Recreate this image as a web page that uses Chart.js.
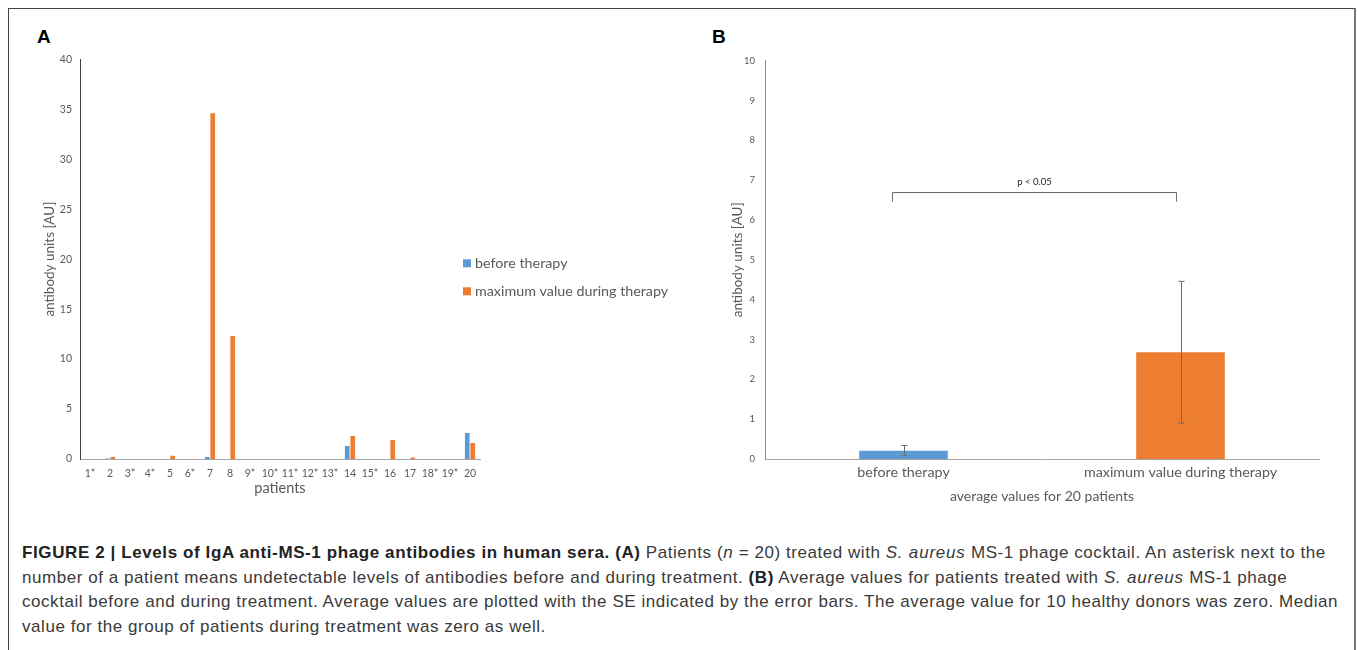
<!DOCTYPE html>
<html>
<head>
<meta charset="utf-8">
<script src="https://cdn.jsdelivr.net/npm/chart.js@4"></script>
<style>
  html, body { margin: 0; padding: 0; background: #fff; width: 1358px; height: 650px; overflow: hidden; }
  .frame { position: absolute; left: 8px; top: 8px; width: 1345px; height: 700px;
           border-top: 1px solid #444; border-left: 1px solid #444; border-right: 2px solid #777; }
  .panel-label { position: absolute; top: 26px; font: bold 19px "Liberation Sans", Arial, sans-serif; color: #000; }
  #chartA { position: absolute; left: 38px; top: 45px; }
  #chartB { position: absolute; left: 726px; top: 45px; }
  .caption { position: absolute; left: 22px; top: 541px; font-family: "Liberation Sans", Arial, sans-serif;
             font-size: 17px; letter-spacing: 0.55px; color: #3a3a3a; line-height: 24.5px; white-space: nowrap; }
  .caption b { color: #222; letter-spacing: 0.6px; }
  .caption i { letter-spacing: 0.8px; }
</style>
</head>
<body>
<div class="frame"></div>
<div class="panel-label" style="left:37px">A</div>
<div class="panel-label" style="left:712px">B</div>
<canvas id="chartA" width="662" height="456"></canvas>
<canvas id="chartB" width="620" height="464"></canvas>
<div class="caption">
  <div><b>FIGURE 2 | Levels of IgA anti-MS-1 phage antibodies in human sera. (A)</b> Patients (<i>n</i> = 20) treated with <i>S. aureus</i> MS-1 phage cocktail. An asterisk next to the</div>
  <div>number of a patient means undetectable levels of antibodies before and during treatment. <b>(B)</b> Average values for patients treated with <i>S. aureus</i> MS-1 phage</div>
  <div>cocktail before and during treatment. Average values are plotted with the SE indicated by the error bars. The average value for 10 healthy donors was zero. Median</div>
  <div>value for the group of patients during treatment was zero as well.</div>
</div>
<script>
// Panel A data
const patients = ['1*', '2', '3*', '4*', '5', '6*', '7', '8', '9*', '10*', '11*', '12*', '13*', '14', '15*', '16', '17', '18*', '19*', '20'];
const beforeTherapy = [0, 0.05, 0, 0, 0, 0, 0.2, 0, 0, 0, 0, 0, 0, 1.3, 0, 0, 0, 0, 0, 2.6];
const maxDuringTherapy = [0, 0.2, 0, 0, 0.33, 0, 34.6, 12.3, 0, 0, 0, 0, 0, 2.3, 0, 1.9, 0.15, 0, 0, 1.6];
const yTicksA = [0, 5, 10, 15, 20, 25, 30, 35, 40];

// Panel B data
const groups = ['before therapy', 'maximum value during therapy'];
const averages = [0.21, 2.68];
const standardErrors = [0.13, 1.78];
const yTicksB = [0, 1, 2, 3, 4, 5, 6, 7, 8, 9, 10];
const significance = { from: 0, to: 1, level: 6.7, label: 'p < 0.05' };

const BLUE = '#5B9BD5';
const ORANGE = '#ED7D31';
const TEXT = '#595959';
const FONT = 'Lato, "Open Sans", sans-serif';

Chart.defaults.font.family = FONT;
Chart.defaults.color = TEXT;
Chart.defaults.animation = false;

// legend drawn inside panel A, like the Excel original
const insideLegend = {
  id: 'insideLegend',
  afterDraw(chart) {
    const { ctx, chartArea } = chart;
    ctx.save();
    ctx.font = '14.3px ' + FONT;
    ctx.textBaseline = 'middle';
    chart.data.datasets.forEach((ds, i) => {
      const x = chartArea.right - 17;
      const y = chartArea.top + 204 + i * 28;
      ctx.fillStyle = ds.backgroundColor;
      ctx.fillRect(x, y - 4, 8, 8);
      ctx.fillStyle = TEXT;
      ctx.fillText(ds.label, x + 12, y);
    });
    ctx.restore();
  }
};

// error bars + significance bracket for panel B
const errorBars = {
  id: 'errorBars',
  afterDatasetsDraw(chart) {
    const { ctx } = chart;
    const xs = chart.scales.x, ys = chart.scales.y;
    ctx.save();
    ctx.strokeStyle = '#6b6b6b';
    ctx.lineWidth = 1;
    averages.forEach((v, i) => {
      const x = Math.round(xs.getPixelForValue(i)) + 0.5;
      const top = ys.getPixelForValue(v + standardErrors[i]);
      const bot = ys.getPixelForValue(v - standardErrors[i]);
      ctx.beginPath();
      ctx.moveTo(x, top); ctx.lineTo(x, bot);
      ctx.moveTo(x - 3, top); ctx.lineTo(x + 3, top);
      ctx.moveTo(x - 3, bot); ctx.lineTo(x + 3, bot);
      ctx.stroke();
    });
    // bracket
    const x1 = xs.getPixelForValue(significance.from) - 11;
    const x2 = xs.getPixelForValue(significance.to) - 4;
    const yb = Math.round(ys.getPixelForValue(significance.level)) + 0.5;
    ctx.beginPath();
    ctx.moveTo(x1, yb + 9); ctx.lineTo(x1, yb); ctx.lineTo(x2, yb); ctx.lineTo(x2, yb + 9);
    ctx.stroke();
    ctx.fillStyle = '#222';
    ctx.font = '9.5px ' + FONT;
    ctx.textAlign = 'center';
    ctx.textBaseline = 'middle';
    ctx.fillText(significance.label, (x1 + x2) / 2, yb - 11);
    ctx.restore();
  }
};

new Chart(document.getElementById('chartA'), {
  type: 'bar',
  data: {
    labels: patients,
    datasets: [
      { label: 'before therapy', data: beforeTherapy, backgroundColor: BLUE },
      { label: 'maximum value during therapy', data: maxDuringTherapy, backgroundColor: ORANGE }
    ]
  },
  options: {
    responsive: false,
    categoryPercentage: 0.55,
    barPercentage: 0.85,
    layout: { padding: { top: 13, right: 220, left: 0, bottom: 0 } },
    plugins: { legend: { display: false }, tooltip: { enabled: false } },
    scales: {
      x: {
        grid: { display: false, drawTicks: false },
        border: { color: '#a6a6a6' },
        ticks: { font: { size: 10.5 }, padding: 8, maxRotation: 0, autoSkip: false },
        title: { display: true, text: 'patients', font: { size: 14.5 } },
        afterFit(s) { s.height = 42; }
      },
      y: {
        min: 0, max: 40,
        grid: { display: false, drawTicks: false },
        border: { color: '#404040' },
        ticks: { font: { size: 10.5 }, padding: 8 },
        afterBuildTicks(s) { s.ticks = yTicksA.map(v => ({ value: v })); },
        title: { display: true, text: 'antibody units [AU]', font: { size: 13.5 } },
        afterFit(s) { s.width = 42; }
      }
    }
  },
  plugins: [insideLegend]
});

new Chart(document.getElementById('chartB'), {
  type: 'bar',
  data: {
    labels: groups,
    datasets: [
      { data: averages, backgroundColor: [BLUE, ORANGE] }
    ]
  },
  options: {
    responsive: false,
    categoryPercentage: 1,
    barPercentage: 0.32,
    layout: { padding: { top: 13, right: 27, left: 0, bottom: 0 } },
    plugins: { legend: { display: false }, tooltip: { enabled: false } },
    scales: {
      x: {
        grid: { display: false, drawTicks: false },
        border: { color: '#a6a6a6' },
        ticks: { font: { size: 14.3 }, padding: 5, maxRotation: 0 },
        title: { display: true, text: 'average values for 20 patients', font: { size: 14 } },
        afterFit(s) { s.height = 50; }
      },
      y: {
        min: 0, max: 10,
        grid: { display: false, drawTicks: false },
        border: { color: '#8c8c8c' },
        ticks: { font: { size: 9.5 }, padding: 10 },
        afterBuildTicks(s) { s.ticks = yTicksB.map(v => ({ value: v })); },
        title: { display: true, text: 'antibody units [AU]', font: { size: 13.5 } },
        afterFit(s) { s.width = 39; }
      }
    }
  },
  plugins: [errorBars]
});
</script>
</body>
</html>
